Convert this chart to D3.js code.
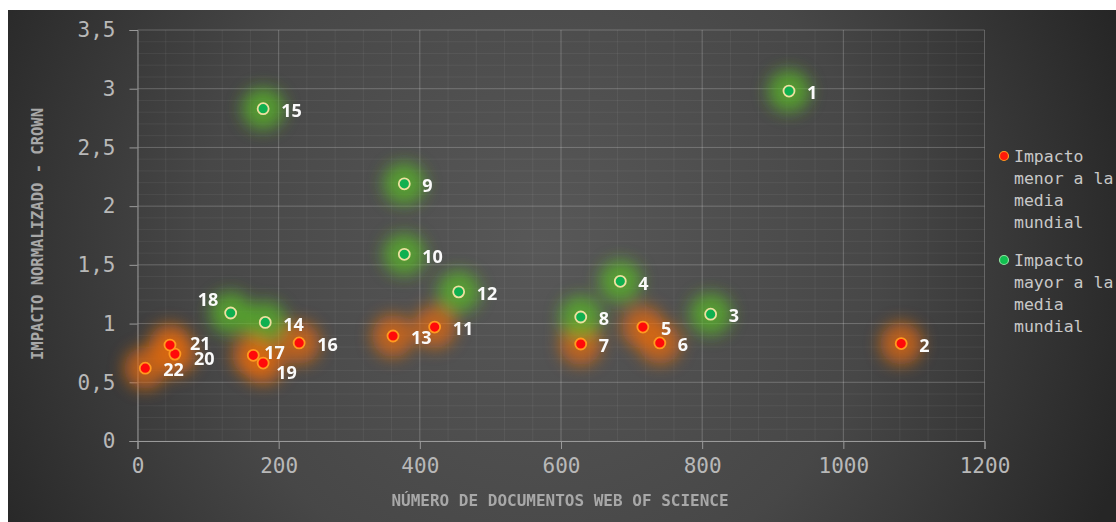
<!DOCTYPE html>
<html>
<head>
<meta charset="utf-8">
<title>Impacto normalizado vs documentos</title>
<script src="https://d3js.org/d3.v7.min.js"></script>
<style>
  body { margin: 0; background: #fff; }
  .tick text { font-family: "DejaVu Sans Mono", monospace; fill: #b8b8b8; }
  .lbl { font-family: "Noto Sans", "DejaVu Sans", sans-serif; font-weight: bold; fill: #fafafa; font-size: 18px; }
</style>
</head>
<body>
<script>
// data
var ids   = [1, 2, 3, 4, 5, 6, 7, 8, 9, 10, 11, 12, 13, 14, 15, 16, 17, 18, 19, 20, 21, 22];
var docs  = [923, 1082, 812, 684, 716, 740, 628, 628, 378, 378, 421, 455, 362, 181, 178, 229, 164, 132, 178, 53, 46, 11];
var crown = [2.98, 0.83, 1.08, 1.36, 0.97, 0.835, 0.826, 1.056, 2.19, 1.59, 0.97, 1.27, 0.894, 1.01, 2.83, 0.835, 0.73, 1.09, 0.664, 0.74, 0.817, 0.62];
var xTicks = [0, 200, 400, 600, 800, 1000, 1200];
var yTicks = [0, 0.5, 1, 1.5, 2, 2.5, 3, 3.5];
var legendItems = [
  {lines: ["Impacto", "menor a la", "media", "mundial"], low: true},
  {lines: ["Impacto", "mayor a la", "media", "mundial"], low: false}
];

// labels that are not placed to the right of their point
var labelShift = {18: [-33, -13], 17: [11, -3], 19: [13, 10], 20: [19, 5], 21: [20, -1]};

var W = 1116, H = 522;
var svg = d3.select("body").append("svg").attr("width", W).attr("height", H);
var defs = svg.append("defs");

var bg = defs.append("radialGradient").attr("id", "bg")
  .attr("gradientUnits", "userSpaceOnUse")
  .attr("cx", 540).attr("cy", 250).attr("r", 620);
bg.append("stop").attr("offset", "0%").attr("stop-color", "#585858");
bg.append("stop").attr("offset", "55%").attr("stop-color", "#474747");
bg.append("stop").attr("offset", "100%").attr("stop-color", "#262626");

defs.append("filter").attr("id", "glow")
  .attr("x", "-100%").attr("y", "-100%").attr("width", "300%").attr("height", "300%")
  .append("feGaussianBlur").attr("stdDeviation", 8);

svg.append("rect").attr("x", 8).attr("y", 10).attr("width", W - 8).attr("height", H - 10)
  .attr("fill", "url(#bg)");

var x = d3.scaleLinear().domain([0, 1200]).range([137.5, 984.5]);
var y = d3.scaleLinear().domain([0, 3.5]).range([441, 30]);

var g = svg.append("g");

// minor grid
g.append("g").selectAll("line").data(d3.range(0, 1201, 40)).join("line")
  .attr("x1", d => x(d)).attr("x2", d => x(d)).attr("y1", y(0)).attr("y2", y(3.5))
  .attr("stroke", "#ffffff").attr("stroke-opacity", 0.06);
g.append("g").selectAll("line").data(d3.range(0, 3.501, 0.1)).join("line")
  .attr("x1", x(0)).attr("x2", x(1200)).attr("y1", d => y(d)).attr("y2", d => y(d))
  .attr("stroke", "#ffffff").attr("stroke-opacity", 0.06);

// major grid
g.append("g").selectAll("line").data(xTicks.slice(1)).join("line")
  .attr("x1", d => x(d)).attr("x2", d => x(d)).attr("y1", y(0)).attr("y2", y(3.5))
  .attr("stroke", "#ffffff").attr("stroke-opacity", 0.18);
g.append("g").selectAll("line").data(yTicks.slice(1)).join("line")
  .attr("x1", x(0)).attr("x2", x(1200)).attr("y1", d => y(d)).attr("y2", d => y(d))
  .attr("stroke", "#ffffff").attr("stroke-opacity", 0.18);

var fmt = d => String(d).replace(".", ",");

var xAxis = g.append("g").attr("transform", "translate(0," + y(0) + ")")
  .call(d3.axisBottom(x).tickValues(xTicks).tickSize(8).tickPadding(9).tickFormat(fmt));
var yAxis = g.append("g").attr("transform", "translate(" + x(0) + ",0)")
  .call(d3.axisLeft(y).tickValues(yTicks).tickSize(8).tickPadding(14).tickFormat(fmt));
[xAxis, yAxis].forEach(function(a) {
  a.select(".domain").attr("stroke", "#9a9a9a");
  a.selectAll(".tick line").attr("stroke", "#9a9a9a");
  a.selectAll(".tick text").style("font-size", "21px").attr("fill", "#b8b8b8");
});

// axis titles
svg.append("text").attr("x", 560).attr("y", 506).attr("text-anchor", "middle")
  .style("font-family", "DejaVu Sans Mono, monospace").style("font-weight", "bold")
  .style("font-size", "16px").attr("fill", "#a8a8a8")
  .text("NÚMERO DE DOCUMENTOS WEB OF SCIENCE");
svg.append("text").attr("transform", "translate(43,234) rotate(-90)").attr("text-anchor", "middle")
  .style("font-family", "DejaVu Sans Mono, monospace").style("font-weight", "bold")
  .style("font-size", "15.5px").attr("fill", "#a8a8a8")
  .text("IMPACTO NORMALIZADO - CROWN");

var pts = ids.map((id, i) => ({id: id, x: docs[i], y: crown[i], low: crown[i] < 1}));

var glowCol = d => d.low ? "#e06a10" : "#5ab52a";
var fillCol = d => d.low ? "#ff0a0a" : "#10b050";
var strokeCol = d => d.low ? "#ff9a20" : "#eee0a0";

g.append("g").attr("filter", "url(#glow)").selectAll("circle").data(pts).join("circle")
  .attr("cx", d => x(d.x)).attr("cy", d => y(d.y)).attr("r", 21)
  .attr("fill", glowCol).attr("opacity", 0.75);

g.append("g").selectAll("circle").data(pts).join("circle")
  .attr("cx", d => x(d.x)).attr("cy", d => y(d.y)).attr("r", 5.5)
  .attr("fill", fillCol).attr("stroke", strokeCol).attr("stroke-width", 1.8);

g.append("g").selectAll("text").data(pts).join("text")
  .attr("class", "lbl")
  .attr("x", d => x(d.x) + (labelShift[d.id] ? labelShift[d.id][0] : 18))
  .attr("y", d => y(d.y) + (labelShift[d.id] ? labelShift[d.id][1] : 2))
  .attr("dy", "0.35em")
  .text(d => d.id);

// legend
var lg = svg.append("g").attr("transform", "translate(1004,156)");
legendItems.forEach(function(item, k) {
  var row = lg.append("g").attr("transform", "translate(0," + (k * 104) + ")");
  row.append("circle").attr("r", 4.5)
    .attr("fill", item.low ? "#ff1a0a" : "#10c050")
    .attr("stroke", item.low ? "#ff9a20" : "#90e0a0").attr("stroke-width", 1.2);
  row.selectAll("text").data(item.lines).join("text")
    .attr("x", 10).attr("y", (d, i) => i * 22).attr("dy", "0.35em")
    .style("font-family", "DejaVu Sans Mono, monospace").style("font-size", "16.5px")
    .attr("fill", "#c8c8c8").text(d => d);
});
</script>
</body>
</html>
